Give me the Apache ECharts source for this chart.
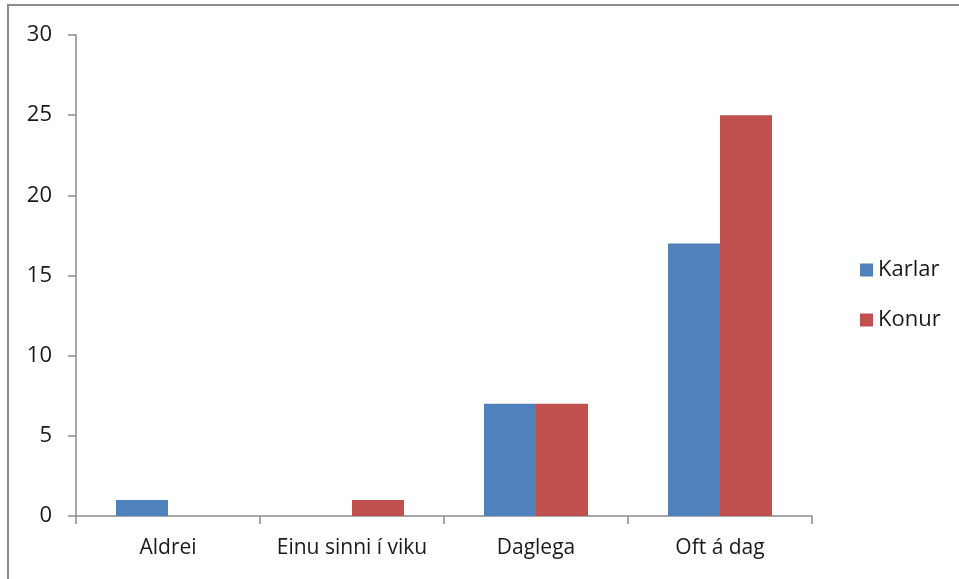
<!DOCTYPE html>
<html>
<head>
<meta charset="utf-8">
<script src="https://cdn.jsdelivr.net/npm/echarts@6/dist/echarts.min.js"></script>
<style>
  html, body { margin: 0; padding: 0; background: #fff; }
  #frame {
    position: absolute; left: 7px; top: 4px; width: 960px; height: 590px;
    border-left: 2px solid #8c8c8c; border-top: 2px solid #8c8c8c;
  }
  #chart { position: absolute; left: 0; top: 0; width: 959px; height: 579px; }
</style>
</head>
<body>
<div id="frame"></div>
<div id="chart"></div>
<script>
const categories = ['Aldrei', 'Einu sinni í viku', 'Daglega', 'Oft á dag']
const karlar = [1, 0, 7, 17]
const konur = [0, 1, 7, 25]

const font = '"Open Sans", "Noto Sans", sans-serif'
const axisGray = '#8c8c8c'

const chart = echarts.init(document.getElementById('chart'), null, { renderer: 'canvas' })

chart.setOption({
  animation: false,
  backgroundColor: 'transparent',
  grid: { left: 76, right: 147, top: 35, bottom: 63 },
  legend: {
    orient: 'vertical',
    left: 855,
    top: 254,
    itemWidth: 13,
    itemHeight: 13,
    itemGap: 28,
    icon: 'rect',
    textStyle: { fontFamily: font, fontSize: 22, color: '#1a1a1a' },
    data: ['Karlar', 'Konur'],
  },
  xAxis: {
    type: 'category',
    data: categories,
    axisLine: { lineStyle: { color: axisGray, width: 1.5 } },
    axisTick: { show: true, length: 8, lineStyle: { color: axisGray, width: 1.5 } },
    axisLabel: { interval: 0, fontFamily: font, fontSize: 21, color: '#1a1a1a', margin: 22 },
  },
  yAxis: {
    type: 'value',
    min: 0,
    max: 30,
    interval: 5,
    splitLine: { show: false },
    axisLine: { show: true, lineStyle: { color: axisGray, width: 1.5 } },
    axisTick: { show: true, length: 8, lineStyle: { color: axisGray, width: 1.5 } },
    axisLabel: { fontFamily: font, fontSize: 22, color: '#1a1a1a', margin: 24 },
  },
  series: [
    {
      name: 'Karlar',
      type: 'bar',
      data: karlar,
      barWidth: 52,
      barGap: '0%',
      itemStyle: { color: '#4f81bd' },
    },
    {
      name: 'Konur',
      type: 'bar',
      data: konur,
      barWidth: 52,
      itemStyle: { color: '#c0504d' },
    },
  ],
})
</script>
</body>
</html>
